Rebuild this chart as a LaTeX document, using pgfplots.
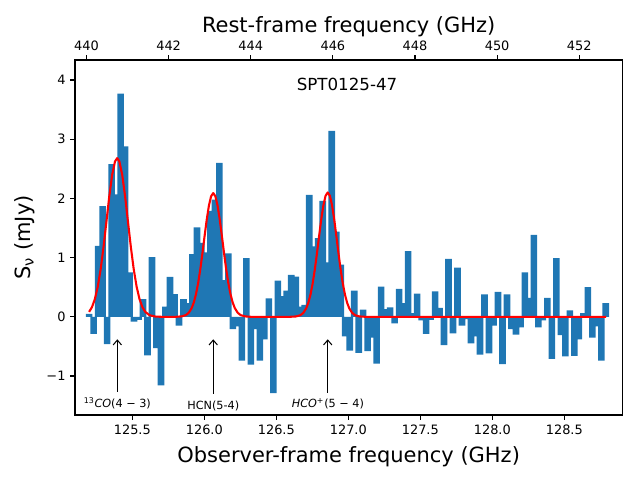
\documentclass[border=0pt]{standalone}
\usepackage{pgfplots}
\pgfplotsset{compat=1.18}
\usepackage{pgfplotstable}
\usepackage{fontspec}
\setmainfont{DejaVu Sans}
\usetikzlibrary{arrows.meta}
\definecolor{c0}{HTML}{1F77B4}

\pgfplotstableread{
x y
125.2000 0.05
125.2312 -0.29
125.2624 1.20
125.2936 1.87
125.3248 -0.46
125.3560 2.58
125.3872 2.07
125.4184 3.77
125.4496 2.88
125.4808 0.75
125.5120 -0.08
125.5432 -0.05
125.5744 0.30
125.6056 -0.65
125.6368 1.01
125.6680 -0.53
125.6992 -1.16
125.7304 0.17
125.7616 0.675
125.7928 0.385
125.8240 -0.15
125.8552 0.30
125.8864 0.23
125.9176 1.06
125.9488 1.51
125.9800 1.25
126.0112 1.09
126.0424 1.79
126.0736 1.98
126.1048 2.60
126.1360 0.62
126.1672 1.07
126.1984 -0.21
126.2296 -0.16
126.2608 -0.74
126.2920 0.99
126.3232 -0.81
126.3544 -0.21
126.3856 -0.74
126.4168 -0.38
126.4480 0.31
126.4792 -1.29
126.5104 0.61
126.5416 0.35
126.5728 0.44
126.6040 0.71
126.6352 0.68
126.6664 0.17
126.6976 0.20
126.7288 2.06
126.7600 1.19
126.7912 1.33
126.8224 1.96
126.8536 0.92
126.8848 3.14
126.9160 1.44
126.9472 0.88
126.9784 -0.33
127.0096 -0.57
127.0408 0.44
127.0720 -0.61
127.1032 0.12
127.1344 -0.58
127.1656 -0.35
127.1968 -0.79
127.2280 0.51
127.2592 0.13
127.2904 0.16
127.3216 -0.11
127.3528 0.47
127.3840 0.23
127.4152 1.11
127.4464 0.06
127.4776 0.39
127.5088 -0.06
127.5400 -0.29
127.5712 -0.05
127.6024 0.43
127.6336 0.15
127.6648 -0.48
127.6960 0.98
127.7272 -0.28
127.7584 0.83
127.7896 -0.15
127.8208 -0.04
127.8520 -0.45
127.8832 -0.33
127.9144 -0.64
127.9456 0.38
127.9768 -0.62
128.0080 -0.15
128.0392 0.42
128.0704 -0.80
128.1016 0.38
128.1328 -0.21
128.1640 -0.30
128.1952 -0.18
128.2264 0.75
128.2576 0.32
128.2888 1.385
128.3200 -0.18
128.3512 -0.06
128.3824 0.32
128.4136 -0.71
128.4448 0.99
128.4760 -0.31
128.5072 -0.67
128.5384 0.11
128.5696 -0.66
128.6008 -0.38
128.6320 0.06
128.6632 0.50
128.6944 -0.35
128.7256 -0.16
128.7568 -0.74
128.7880 0.23
}\spectrum

\pgfplotstableread{
x y
125.200 0.083
125.220 0.164
125.240 0.299
125.260 0.508
125.280 0.801
125.300 1.176
125.320 1.604
125.340 2.033
125.360 2.397
125.380 2.626
125.395 2.680
125.410 2.626
125.430 2.397
125.450 2.033
125.470 1.604
125.490 1.176
125.510 0.801
125.530 0.508
125.550 0.299
125.570 0.164
125.590 0.083
125.620 0.026
125.660 0.004
125.700 0.000
125.802 0.000
125.842 0.007
125.872 0.029
125.892 0.068
125.912 0.146
125.927 0.242
125.942 0.380
125.957 0.567
125.972 0.801
125.987 1.074
126.002 1.365
126.017 1.645
126.032 1.879
126.047 2.035
126.062 2.090
126.077 2.035
126.092 1.879
126.107 1.645
126.122 1.365
126.137 1.074
126.152 0.801
126.167 0.567
126.182 0.380
126.197 0.242
126.212 0.146
126.232 0.068
126.252 0.029
126.282 0.007
126.322 0.000
126.597 0.000
126.637 0.006
126.667 0.027
126.687 0.065
126.707 0.141
126.722 0.235
126.737 0.372
126.752 0.558
126.767 0.793
126.782 1.068
126.797 1.362
126.812 1.646
126.827 1.885
126.842 2.044
126.857 2.100
126.872 2.044
126.887 1.885
126.902 1.646
126.917 1.362
126.932 1.068
126.947 0.793
126.962 0.558
126.977 0.372
126.992 0.235
127.007 0.141
127.027 0.065
127.047 0.027
127.077 0.006
127.117 0.000
128.790 0.000
}\model

\begin{document}
\begin{tikzpicture}
\useasboundingbox (0,0) rectangle (460.8pt,345.6pt);
\begin{axis}[
  at={(54pt,46.8pt)}, anchor=south west,
  width=394.1pt, height=255.6pt, scale only axis,
  xmin=125.102, xmax=128.903, ymin=-1.659, ymax=4.338,
  xtick={125.5,126.0,126.5,127.0,127.5,128.0,128.5},
  xticklabels={125.5,126.0,126.5,127.0,127.5,128.0,128.5},
  ytick={-1,0,1,2,3,4},
  yticklabels={−1,0,1,2,3,4},
  xtick pos=left, ytick pos=left,
  tick align=outside,
  major tick length=3.3pt,
  minor tick num=0,
  axis line style={line width=0.75pt},
  every tick/.style={line width=0.75pt, black},
  ticklabel style={font=\fontsize{9.3}{11}\selectfont},
  xlabel={Observer-frame frequency (GHz)},
  xlabel style={font=\fontsize{15.1}{17}\selectfont, at={(axis description cs:0.5,-0.118)}, anchor=center},
  ylabel={S\textsubscript{ν} (mJy)},
  ylabel style={font=\fontsize{15.1}{17}\selectfont, at={(axis description cs:-0.0914,0.5)}, anchor=center, rotate=0},
]
\addplot[ybar, bar width=0.046, bar shift=0pt, fill=c0, draw=none] table[x=x,y=y] {\spectrum};
\addplot[red, line width=1.5pt, line join=round, no marks] table[x=x,y=y] {\model};
\node[font=\fontsize{12}{14}\selectfont] at (axis description cs:0.497,0.932) {SPT0125-47};
\draw[-{Straight Barb[length=3.5pt,width=6pt]}, line width=0.75pt] (axis cs:125.396,-1.27) -- (axis cs:125.396,-0.38);
\draw[-{Straight Barb[length=3.5pt,width=6pt]}, line width=0.75pt] (axis cs:126.062,-1.30) -- (axis cs:126.062,-0.38);
\draw[-{Straight Barb[length=3.5pt,width=6pt]}, line width=0.75pt] (axis cs:126.857,-1.28) -- (axis cs:126.857,-0.38);
\node[font=\fontsize{8.1}{10}\selectfont] at (axis cs:125.396,-1.456) {\textsuperscript{13}\textit{CO}(4 − 3)};
\node[font=\fontsize{8.1}{10}\selectfont] at (axis cs:126.062,-1.507) {HCN(5-4)};
\node[font=\fontsize{8.1}{10}\selectfont] at (axis cs:126.858,-1.473) {\textit{HCO}\textsuperscript{+}(5 − 4)};
\end{axis}
\begin{axis}[
  at={(54pt,46.8pt)}, anchor=south west,
  width=394.1pt, height=255.6pt, scale only axis,
  xmin=439.72, xmax=453.05, ymin=0, ymax=1,
  axis x line*=top, hide y axis,
  xtick={440,442,444,446,448,450,452},
  xticklabels={440,442,444,446,448,450,452},
  tick align=outside,
  major tick length=3.3pt,
  axis line style={line width=0.75pt},
  every tick/.style={line width=0.75pt, black},
  ticklabel style={font=\fontsize{9.3}{11}\selectfont},
  xlabel={Rest-frame frequency (GHz)},
  xlabel style={font=\fontsize{15.1}{17}\selectfont, at={(axis description cs:0.5,1.095)}, anchor=center},
]
\end{axis}
\end{tikzpicture}
\end{document}
